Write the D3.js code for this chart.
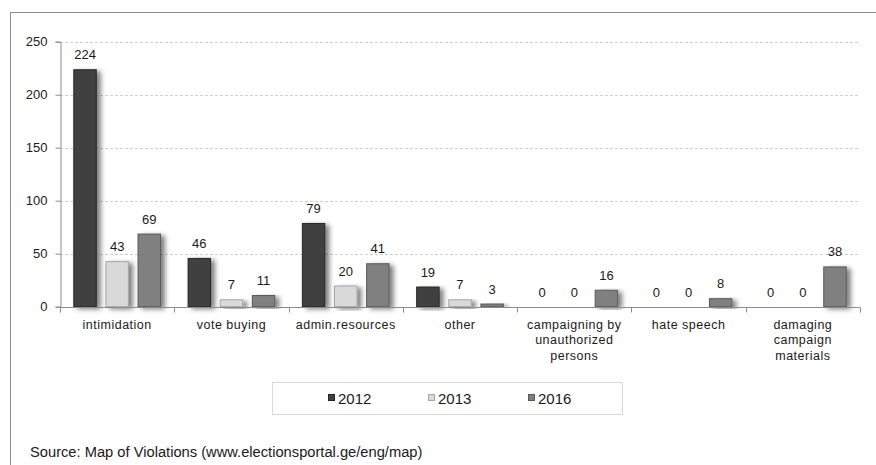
<!DOCTYPE html>
<html>
<head>
<meta charset="utf-8">
<script src="https://cdn.jsdelivr.net/npm/d3@7"></script>
<style>
  html, body { margin: 0; padding: 0; background: #fff; }
  svg { display: block; font-family: "Liberation Sans", Arial, sans-serif; }
</style>
</head>
<body>
<svg id="chart" width="876" height="465"></svg>
<script>
// Reported violations by type and election year
const categories = [
  ["intimidation"],
  ["vote buying"],
  ["admin.resources"],
  ["other"],
  ["campaigning by", "unauthorized", "persons"],
  ["hate speech"],
  ["damaging", "campaign", "materials"]
];
const seriesNames = ["2012", "2013", "2016"];
const values2012 = [224, 46, 79, 19, 0, 0, 0];
const values2013 = [43, 7, 20, 7, 0, 0, 0];
const values2016 = [69, 11, 41, 3, 16, 8, 38];
const yTicks = [0, 50, 100, 150, 200, 250];
const sourceText = "Source: Map of Violations (www.electionsportal.ge/eng/map)";

const fills = ["#404040", "#d9d9d9", "#808080"];
const strokes = ["#262626", "#a6a6a6", "#595959"];

const svg = d3.select("#chart");
const series = [values2012, values2013, values2016];

// Outer frame (runs off the right and bottom edges)
svg.append("rect")
  .attr("x", 10.5).attr("y", 12.5)
  .attr("width", 900).attr("height", 500)
  .attr("fill", "none").attr("stroke", "#8c8c8c").attr("stroke-width", 1);

const defs = svg.append("defs");
const f = defs.append("filter").attr("id", "shadow")
  .attr("x", "-20%").attr("y", "-10%").attr("width", "160%").attr("height", "130%");
f.append("feDropShadow")
  .attr("dx", 4).attr("dy", 2).attr("stdDeviation", 2.5)
  .attr("flood-color", "#000").attr("flood-opacity", 0.5);

const plotLeft = 60, plotRight = 860, plotTop = 41.7, plotBottom = 306.7;

const x0 = d3.scaleBand()
  .domain(d3.range(categories.length))
  .range([plotLeft, plotRight])
  .paddingInner(0).paddingOuter(0);

const x1 = d3.scaleBand()
  .domain(d3.range(seriesNames.length))
  .range([13.3, x0.bandwidth() - 13.3])
  .paddingInner(0.27).paddingOuter(0);

const y = d3.scaleLinear().domain([0, 250]).range([plotBottom, plotTop]);

// Dashed gridlines
svg.append("g").selectAll("line")
  .data(yTicks.filter(d => d > 0))
  .join("line")
  .attr("x1", plotLeft).attr("x2", plotRight)
  .attr("y1", d => Math.round(y(d)) + 0.5).attr("y2", d => Math.round(y(d)) + 0.5)
  .attr("stroke", "#d0d0d0").attr("stroke-dasharray", "3,2");

// Y axis
const yAxis = svg.append("g")
  .attr("transform", `translate(${plotLeft + 0.5},0)`)
  .call(d3.axisLeft(y).tickValues(yTicks).tickSize(5).tickPadding(8));
yAxis.select(".domain").attr("stroke", "#8c8c8c");
yAxis.selectAll(".tick line").attr("stroke", "#8c8c8c");
yAxis.selectAll(".tick text").attr("fill", "#1a1a1a").style("font-size", "13px");

// Bars
const groups = svg.append("g").selectAll("g")
  .data(categories.map((c, i) => i))
  .join("g")
  .attr("transform", i => `translate(${x0(i)},0)`);

groups.selectAll("rect")
  .data(i => series.map((s, k) => ({ k, v: s[i] })).filter(d => d.v > 0))
  .join("rect")
  .attr("x", d => x1(d.k) + 0.5)
  .attr("y", d => y(d.v) + 0.5)
  .attr("width", x1.bandwidth() - 1)
  .attr("height", d => y(0) - y(d.v) - 0.5)
  .attr("fill", d => fills[d.k])
  .attr("stroke", d => strokes[d.k])
  .attr("stroke-width", 1)
  .attr("filter", "url(#shadow)");

// Value labels
groups.selectAll("text")
  .data(i => series.map((s, k) => ({ k, v: s[i] })))
  .join("text")
  .attr("x", d => x1(d.k) + x1.bandwidth() / 2)
  .attr("y", d => y(d.v) - 10)
  .attr("text-anchor", "middle")
  .attr("fill", "#1a1a1a")
  .style("font-size", "13px")
  .text(d => d.v);

// X axis
const xAxis = svg.append("g")
  .attr("transform", `translate(0,${Math.round(plotBottom) + 0.5})`);
xAxis.append("line")
  .attr("x1", plotLeft).attr("x2", plotRight)
  .attr("stroke", "#8c8c8c");
xAxis.selectAll(".tk")
  .data(d3.range(categories.length + 1))
  .join("line").attr("class", "tk")
  .attr("x1", i => Math.round(plotLeft + i * x0.step()) + 0.5)
  .attr("x2", i => Math.round(plotLeft + i * x0.step()) + 0.5)
  .attr("y1", 0).attr("y2", 5)
  .attr("stroke", "#8c8c8c");

const catLabels = xAxis.selectAll(".cat")
  .data(categories.map((c, i) => ({ c, i })))
  .join("text").attr("class", "cat")
  .attr("text-anchor", "middle")
  .attr("fill", "#1a1a1a")
  .style("font-size", "12.5px")
  .style("letter-spacing", "0.5px");
catLabels.each(function(d) {
  const t = d3.select(this);
  d.c.forEach((line, j) => {
    t.append("tspan")
      .attr("x", x0(d.i) + x0.bandwidth() / 2)
      .attr("y", 21 + j * 15.5)
      .text(line);
  });
});

// Legend
const legend = svg.append("g");
legend.append("rect")
  .attr("x", 272.5).attr("y", 382.5)
  .attr("width", 350).attr("height", 32)
  .attr("fill", "#fff").attr("stroke", "#d9d9d9");
const legendX = d3.scalePoint().domain(seriesNames).range([328, 528]);
const li = legend.selectAll(".li")
  .data(seriesNames.map((n, k) => ({ n, k })))
  .join("g").attr("class", "li")
  .attr("transform", d => `translate(${legendX(d.n)},398)`);
li.append("rect")
  .attr("x", 0.5).attr("y", -3.5)
  .attr("width", 6).attr("height", 6)
  .attr("fill", d => fills[d.k]).attr("stroke", d => strokes[d.k]);
li.append("text")
  .attr("x", 10).attr("y", 5.5)
  .attr("fill", "#1a1a1a")
  .style("font-size", "15px")
  .text(d => d.n);

// Source note
svg.append("text")
  .attr("x", 30).attr("y", 457)
  .attr("fill", "#1a1a1a")
  .style("font-size", "14.7px")
  .text(sourceText);
</script>
</body>
</html>
